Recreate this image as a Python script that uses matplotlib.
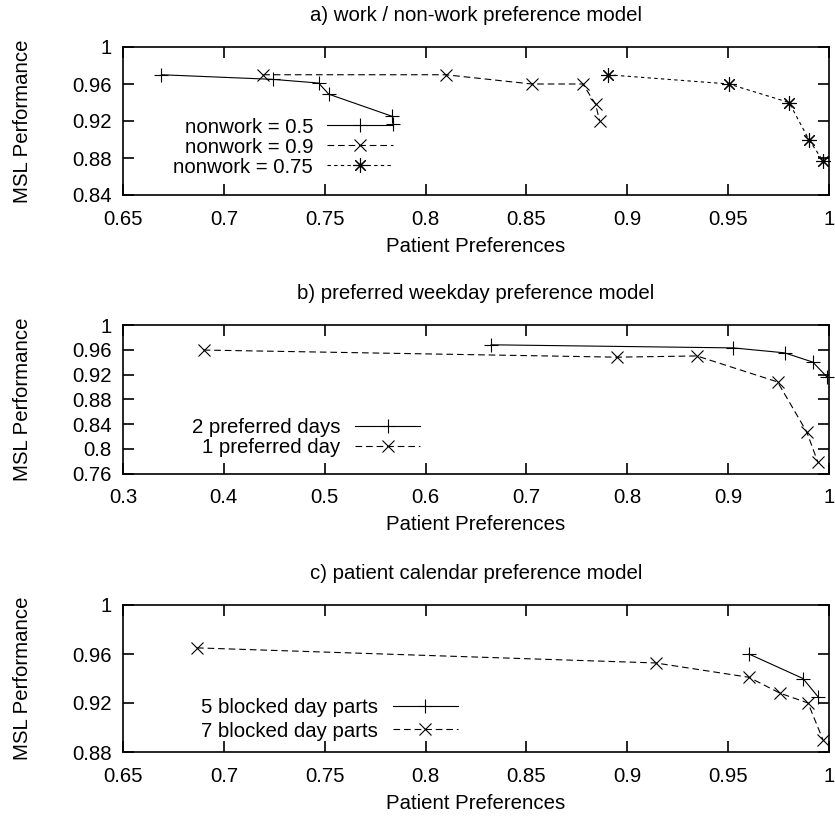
import matplotlib
matplotlib.use("Agg")
import matplotlib.pyplot as plt
from matplotlib.ticker import FuncFormatter

plt.rcParams['font.family'] = ['Liberation Sans', 'DejaVu Sans']
FS = 14.7

# ---- data: panel a ----
a_x_nw05 = [0.669, 0.7245, 0.747, 0.752, 0.7835, 0.784]
a_y_nw05 = [0.970, 0.965, 0.961, 0.949, 0.925, 0.917]
a_x_nw09 = [0.7195, 0.810, 0.8526, 0.878, 0.8843, 0.8863]
a_y_nw09 = [0.970, 0.970, 0.960, 0.960, 0.938, 0.920]
a_x_nw075 = [0.8903, 0.9504, 0.9802, 0.990, 0.997]
a_y_nw075 = [0.970, 0.960, 0.940, 0.900, 0.877]

# ---- data: panel b ----
b_x_2days = [0.665, 0.905, 0.956, 0.984, 0.998]
b_y_2days = [0.968, 0.963, 0.955, 0.940, 0.916]
b_x_1day = [0.380, 0.790, 0.869, 0.949, 0.978, 0.989]
b_y_1day = [0.9595, 0.948, 0.950, 0.908, 0.827, 0.778]

# ---- data: panel c ----
c_x_5parts = [0.9603, 0.9871, 0.9946]
c_y_5parts = [0.960, 0.940, 0.925]
c_x_7parts = [0.6867, 0.914, 0.9603, 0.9757, 0.9896, 0.997]
c_y_7parts = [0.965, 0.9527, 0.941, 0.928, 0.920, 0.890]

titles = ["a) work / non-work preference model",
          "b) preferred weekday preference model",
          "c) patient calendar preference model"]
xlabel = "Patient Preferences"
ylabel = "MSL Performance"

a_xticks = [0.65, 0.7, 0.75, 0.8, 0.85, 0.9, 0.95, 1.0]
a_yticks = [0.84, 0.88, 0.92, 0.96, 1.0]
b_xticks = [0.3, 0.4, 0.5, 0.6, 0.7, 0.8, 0.9, 1.0]
b_yticks = [0.76, 0.8, 0.84, 0.88, 0.92, 0.96, 1.0]
c_xticks = [0.65, 0.7, 0.75, 0.8, 0.85, 0.9, 0.95, 1.0]
c_yticks = [0.88, 0.92, 0.96, 1.0]

W, H = 835, 819
fig = plt.figure(figsize=(W / 100, H / 100), dpi=100)

def ax_rect(left, right, top, bottom):
    return [left / W, 1 - bottom / H, (right - left) / W, (bottom - top) / H]

axA = fig.add_axes(ax_rect(123, 829, 47, 195))
axB = fig.add_axes(ax_rect(123, 829, 325, 473.5))
axC = fig.add_axes(ax_rect(123, 829, 605, 752))

fmt = FuncFormatter(lambda v, p: ('%g' % round(v, 4)))

SOLID = dict(color='black', lw=0.8, ls='-', marker='+', ms=10, mew=0.8, clip_on=False)
LONGD = dict(color='black', lw=0.8, marker='x', ms=9, mew=0.8, clip_on=False)
SHORTD = dict(color='black', lw=0.8, marker=(8, 2, 0), ms=10.5, mew=0.8, clip_on=False)

def style(ax, title, xt, yt, xlim, ylim):
    ax.set_xlim(*xlim)
    ax.set_ylim(*ylim)
    ax.set_xticks(xt)
    ax.set_yticks(yt)
    ax.xaxis.set_major_formatter(fmt)
    ax.yaxis.set_major_formatter(fmt)
    ax.tick_params(direction='in', top=True, right=True, length=8, width=1.2,
                   labelsize=FS, color='black')
    ax.tick_params(axis='x', pad=10.5)
    ax.tick_params(axis='y', pad=8)
    for s in ax.spines.values():
        s.set_linewidth(1.2)
    ax.set_title(title, fontsize=FS, pad=19)
    ax.set_xlabel(xlabel, fontsize=FS, labelpad=6)
    ax.set_ylabel(ylabel, fontsize=FS)
    ax.yaxis.set_label_coords(-91 / 706, 0.5)

# panel a
l1, = axA.plot(a_x_nw05, a_y_nw05, label='nonwork = 0.5', **SOLID)
l2, = axA.plot(a_x_nw09, a_y_nw09, label='nonwork = 0.9', **LONGD)
l2.set_dashes([6, 3.5])
l3, = axA.plot(a_x_nw075, a_y_nw075, label='nonwork = 0.75', **SHORTD)
l3.set_dashes([3, 3])
style(axA, titles[0], a_xticks, a_yticks, (0.65, 1.0), (0.84, 1.0))

# panel b
m1, = axB.plot(b_x_2days, b_y_2days, label='2 preferred days', **SOLID)
m2, = axB.plot(b_x_1day, b_y_1day, label='1 preferred day', **LONGD)
m2.set_dashes([6, 3.5])
style(axB, titles[1], b_xticks, b_yticks, (0.3, 1.0), (0.76, 1.0))

# panel c
n1, = axC.plot(c_x_5parts, c_y_5parts, label='5 blocked day parts', **SOLID)
n2, = axC.plot(c_x_7parts, c_y_7parts, label='7 blocked day parts', **LONGD)
n2.set_dashes([6, 3.5])
style(axC, titles[2], c_xticks, c_yticks, (0.65, 1.0), (0.88, 1.0))

leg_kw = dict(frameon=False, markerfirst=False, fontsize=FS, borderpad=0,
              borderaxespad=0, handlelength=3.2, handletextpad=0.7,
              loc='center right')
axA.legend(bbox_to_anchor=(0.382, 0.324), labelspacing=0.05, **leg_kw)
axB.legend(bbox_to_anchor=(0.421, 0.242), labelspacing=0.05, **leg_kw)
axC.legend(bbox_to_anchor=(0.4745, 0.221), labelspacing=0.2, **leg_kw)

fig.savefig('out.png', dpi=100)
